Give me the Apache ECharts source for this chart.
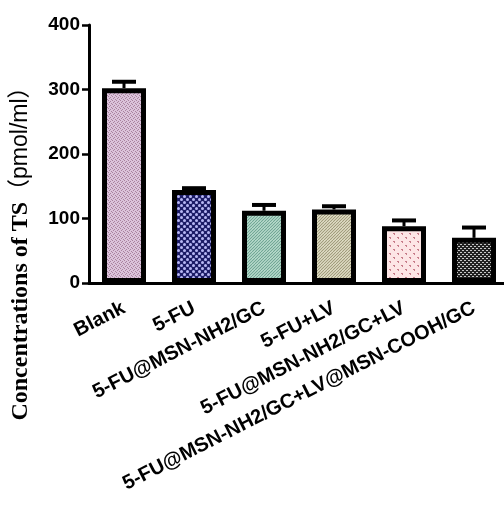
<!DOCTYPE html>
<html>
<head>
<meta charset="utf-8">
<script src="https://cdn.jsdelivr.net/npm/echarts@6/dist/echarts.min.js"></script>
<style>
  html, body { margin: 0; padding: 0; background: #fff; }
  #chart { width: 504px; height: 506px; }
</style>
</head>
<body>
<div id="chart"></div>
<script>
// Treatment groups and measured TS concentration (pmol/ml), mean and SD
const categories = [
  'Blank',
  '5-FU',
  '5-FU@MSN-NH2/GC',
  '5-FU+LV',
  '5-FU@MSN-NH2/GC+LV',
  '5-FU@MSN-NH2/GC+LV@MSN-COOH/GC'
];
const meanValues = [302, 144, 112, 114, 88, 70];
const sdValues = [10, 3, 9, 5, 9, 16];
const yTicks = { min: 0, max: 400, interval: 100 };
const yTitleMain = 'Concentrations of TS';
const yTitleUnit = '（pmol/ml）';

// Small tiled canvases used as fill patterns for each bar
function makePattern(size, draw) {
  const c = document.createElement('canvas');
  c.width = size; c.height = size;
  const ctx = c.getContext('2d');
  draw(ctx, size);
  return { image: c, repeat: 'repeat' };
}
function stripes(bg, fg) {
  return makePattern(6, (ctx, s) => {
    ctx.fillStyle = bg; ctx.fillRect(0, 0, s, s);
    ctx.strokeStyle = fg; ctx.lineWidth = 1.1;
    ctx.beginPath();
    for (let k = -s; k <= 2 * s; k += 3) {
      ctx.moveTo(k, s); ctx.lineTo(k + s, 0);
    }
    ctx.stroke();
  });
}
const patterns = [
  // fine mauve speckle
  makePattern(4, (ctx, s) => {
    ctx.fillStyle = '#dbc3db'; ctx.fillRect(0, 0, s, s);
    ctx.fillStyle = '#a9829f';
    ctx.fillRect(0, 0, 1, 1); ctx.fillRect(2, 1, 1, 1);
    ctx.fillRect(1, 2, 1, 1); ctx.fillRect(3, 3, 1, 1);
  }),
  // navy lattice with lavender dots
  makePattern(6, (ctx, s) => {
    ctx.fillStyle = '#1c1c66'; ctx.fillRect(0, 0, s, s);
    ctx.fillStyle = '#b8b8f4';
    ctx.beginPath(); ctx.arc(1.5, 1.5, 1.5, 0, Math.PI * 2); ctx.fill();
    ctx.beginPath(); ctx.arc(4.5, 4.5, 1.5, 0, Math.PI * 2); ctx.fill();
  }),
  // teal diagonal stripes
  stripes('#c4e4d6', '#6fa493'),
  // khaki diagonal stripes
  stripes('#ebe8d2', '#9e9a7a'),
  // pale pink with small rose marks
  makePattern(8, (ctx, s) => {
    ctx.fillStyle = '#fde6e6'; ctx.fillRect(0, 0, s, s);
    ctx.fillStyle = '#c77d8a';
    ctx.fillRect(1, 1, 2, 1); ctx.fillRect(2, 2, 1, 1);
    ctx.fillRect(5, 5, 2, 1); ctx.fillRect(6, 6, 1, 1);
  }),
  // dark grey with light dashes
  makePattern(4, (ctx, s) => {
    ctx.fillStyle = '#222'; ctx.fillRect(0, 0, s, s);
    ctx.fillStyle = '#c8c8c8';
    ctx.fillRect(0, 0, 2, 1); ctx.fillRect(2, 2, 2, 1);
  })
];

const barData = meanValues.map((v, i) => ({
  value: v,
  itemStyle: { color: patterns[i] }
}));
const errData = meanValues.map((v, i) => [i, v, sdValues[i]]);

const chart = echarts.init(document.getElementById('chart'), null, { renderer: 'canvas' });
chart.setOption({
  animation: false,
  backgroundColor: '#fff',
  grid: { left: 89, right: -5, top: 25, bottom: 223, containLabel: false, outerBoundsMode: 'none' },
  graphic: [{
    type: 'text',
    x: 21,
    y: 248,
    rotation: Math.PI / 2,
    style: {
      text: '{a|' + yTitleMain + '}{b|' + yTitleUnit + '}',
      align: 'center',
      verticalAlign: 'middle',
      rich: {
        a: { fontFamily: 'Liberation Serif, Times New Roman, serif', fontWeight: 'bold', fontSize: 24, fill: '#000' },
        b: { fontFamily: 'Liberation Sans, Noto Sans CJK SC, sans-serif', fontWeight: 'normal', fontSize: 23, fill: '#000' }
      }
    }
  }],
  xAxis: {
    type: 'category',
    data: categories,
    axisLine: { lineStyle: { color: '#000', width: 3 } },
    axisTick: { alignWithLabel: true, length: 7, lineStyle: { color: '#000', width: 2.5 } },
    axisLabel: {
      rotate: 27,
      margin: 24,
      interval: 0,
      color: '#000',
      fontFamily: 'Liberation Sans, Arial, sans-serif',
      fontWeight: 'bold',
      fontSize: 20
    }
  },
  yAxis: {
    type: 'value',
    min: yTicks.min,
    max: yTicks.max,
    interval: yTicks.interval,
    splitLine: { show: false },
    axisLine: { show: true, lineStyle: { color: '#000', width: 3 } },
    axisTick: { show: true, length: 7, lineStyle: { color: '#000', width: 2.5 } },
    axisLabel: {
      margin: 9,
      color: '#000',
      fontFamily: 'Liberation Sans, Arial, sans-serif',
      fontWeight: 'bold',
      fontSize: 19
    }
  },
  series: [
    {
      type: 'custom',
      z: 1,
      renderItem: function (params, api) {
        const x = api.value(0), v = api.value(1), e = api.value(2);
        const base = api.coord([x, v]);
        const top = api.coord([x, v + e]);
        const hw = 12;
        return {
          type: 'group',
          children: [
            { type: 'line', shape: { x1: base[0], y1: base[1], x2: top[0], y2: top[1] }, style: { stroke: '#000', lineWidth: 3 } },
            { type: 'line', shape: { x1: top[0] - hw, y1: top[1], x2: top[0] + hw, y2: top[1] }, style: { stroke: '#000', lineWidth: 4 } }
          ]
        };
      },
      data: errData
    },
    {
      type: 'bar',
      z: 2,
      barWidth: 44,
      itemStyle: { borderColor: '#000', borderWidth: 5 },
      data: barData
    }
  ]
});
</script>
</body>
</html>
